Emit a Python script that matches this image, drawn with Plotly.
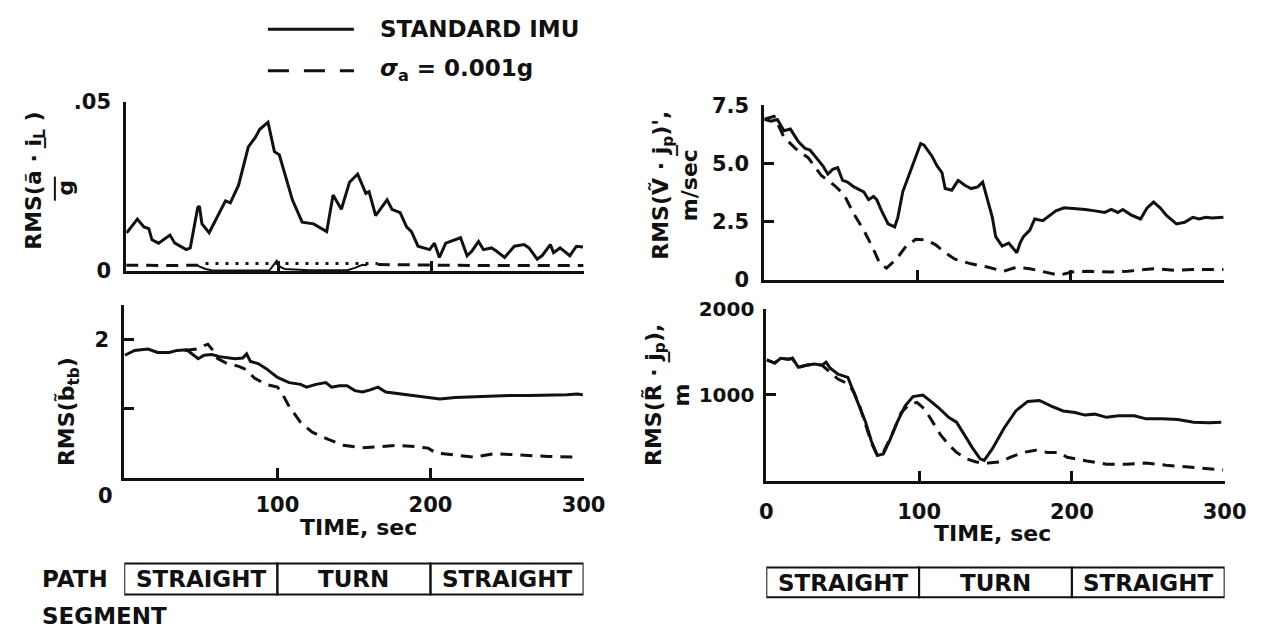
import plotly.graph_objects as go

W, H = 1274, 643

# ---------------- data ----------------
# Top-left: RMS(a~ . i_L)/g
tl_t_std = [0, 0.9, 7.3, 11.6, 14.8, 16.9, 21.2, 28.7, 31.9, 39.4, 42.0, 46.9, 48.0, 49.7, 54.4, 65.1, 68.3,
            73.7, 80.1, 84.8, 87.6, 93.0, 97.2, 100.4, 109.0, 115.4, 122.9, 131.5, 135.7, 137.9, 141.1,
            146.5, 151.8, 157.2, 159.3, 163.6, 171.1, 174.3, 179.7, 183.9, 187.1, 191.4, 199.0, 202.2,
            205.4, 209.6, 216.0, 219.3, 223.6, 226.8, 231.1, 234.3, 239.6, 242.8, 248.2, 254.6, 261.0,
            264.2, 269.6, 272.8, 278.2, 280.3, 284.6, 291.0, 295.3, 299.6]
tl_v_std = [0.0113, 0.0116, 0.0153, 0.0130, 0.0125, 0.0092, 0.0082, 0.0106, 0.0082, 0.0063, 0.0068, 0.0187,
            0.0191, 0.0139, 0.0113, 0.0207, 0.0201, 0.0253, 0.0366, 0.0395, 0.0418, 0.0439, 0.0352, 0.0343,
            0.0210, 0.0144, 0.0139, 0.0116, 0.0224, 0.0205, 0.0182, 0.0262, 0.0286, 0.0229, 0.0234, 0.0163,
            0.0210, 0.0182, 0.0172, 0.0130, 0.0116, 0.0073, 0.0063, 0.0082, 0.0040, 0.0082, 0.0092, 0.0098,
            0.0045, 0.0059, 0.0087, 0.0063, 0.0068, 0.0059, 0.0040, 0.0073, 0.0078, 0.0068, 0.0035, 0.0045,
            0.0078, 0.0054, 0.0068, 0.0045, 0.0073, 0.0071]
tl_t_acc_a = [0, 10, 20, 30, 40, 50]
tl_v_acc_a = [0.0017, 0.0016, 0.0017, 0.0016, 0.0017, 0.0017]
tl_t_acc_b = [52, 80, 110, 140, 165]
tl_v_acc_b = [0.0022, 0.0022, 0.0022, 0.0022, 0.0022]
tl_t_acc_c = [165, 190, 200, 230, 260, 300]
tl_v_acc_c = [0.0019, 0.0018, 0.0016, 0.0016, 0.0016, 0.0016]
tl_t_low = [47, 52, 56, 70, 94, 98.7, 101, 104, 120, 145, 150, 155, 158]
tl_v_low = [0.0015, 0.0006, 0.0002, 0.0001, 0.0002, 0.0030, 0.0012, 0.0006, 0.0002, 0.0002, 0.0009, 0.0018, 0.0017]

# Top-right: RMS(V~ . j_p), m/sec
tr_t_std = [0, 4.3, 8.5, 12.8, 17.0, 22.3, 26.6, 29.8, 34.0, 38.3, 41.5, 44.7, 47.9, 51.1, 54.3, 58.5, 64.9,
            68.1, 71.3, 73.4, 76.6, 80.8, 85.1, 87.2, 90.4, 96.8, 102.1, 104.3, 109.6, 112.8, 116.0, 118.1,
            122.4, 126.6, 130.9, 135.1, 139.4, 142.6, 145.7, 148.9, 151.1, 155.3, 159.6, 164.9, 167.0, 169.2,
            173.4, 176.6, 181.9, 190.4, 195.8, 203.2, 209.6, 216.0, 222.3, 226.6, 230.9, 234.1, 239.4, 245.7,
            250.0, 254.2, 258.5, 262.8, 269.2, 274.5, 279.8, 284.0, 288.3, 292.5, 300.0]
tr_v_std = [6.90, 6.82, 6.89, 6.41, 6.48, 5.93, 5.65, 5.58, 5.24, 4.89, 4.54, 4.75, 4.82, 4.27, 4.20, 3.99,
            3.78, 3.44, 3.58, 3.44, 2.96, 2.40, 2.27, 2.68, 3.78, 4.96, 5.86, 5.79, 5.30, 4.89, 4.61, 3.92,
            3.85, 4.27, 4.06, 3.92, 3.99, 4.20, 3.44, 2.68, 1.85, 1.44, 1.57, 1.16, 1.57, 1.85, 2.13, 2.61,
            2.54, 2.96, 3.09, 3.06, 3.02, 2.96, 2.89, 3.02, 2.89, 3.02, 2.79, 2.61, 3.09, 3.34, 3.09, 2.75,
            2.40, 2.47, 2.68, 2.61, 2.68, 2.65, 2.68]
tr_t_acc = [0, 6.4, 12.8, 20.2, 28.7, 37.2, 45.7, 52.1, 58.5, 64.9, 71.3, 75.5, 79.8, 86.2, 92.6, 98.9,
            105.3, 111.7, 118.1, 124.5, 135.1, 145.7, 156.4, 164.9, 173.4, 184.0, 192.6, 201.0, 211.7,
            226.6, 237.3, 254.2, 269.2, 279.8, 300.0]
tr_v_acc = [6.90, 7.03, 6.13, 5.65, 5.24, 4.48, 4.06, 3.65, 2.82, 2.13, 1.30, 0.68, 0.50, 0.88, 1.44, 1.74,
            1.71, 1.51, 1.16, 0.88, 0.68, 0.54, 0.36, 0.54, 0.47, 0.33, 0.19, 0.33, 0.36, 0.33, 0.36, 0.47,
            0.40, 0.44, 0.44]

# Bottom-left: RMS(b~_tb)
bl_t_std = [0.4, 6.7, 15.5, 21.8, 29.4, 34.5, 40.8, 44.6, 48.3, 52.1, 57.2, 62.2, 67.3, 72.3, 77.4, 79.9,
            82.4, 87.4, 92.5, 100.1, 107.7, 115.2, 119.0, 125.3, 131.6, 135.4, 140.5, 145.5, 150.6, 155.6,
            160.7, 165.7, 170.8, 180.8, 190.9, 198.5, 206.1, 216.2, 226.3, 238.9, 251.5, 264.1, 276.8,
            289.4, 295.7, 299.5]
bl_v_std = [1.77, 1.84, 1.86, 1.81, 1.81, 1.84, 1.85, 1.79, 1.72, 1.77, 1.78, 1.75, 1.73, 1.72, 1.73, 1.79,
            1.68, 1.65, 1.58, 1.45, 1.375, 1.35, 1.31, 1.35, 1.375, 1.31, 1.33, 1.33, 1.26, 1.24, 1.27, 1.31,
            1.24, 1.21, 1.19, 1.16, 1.14, 1.16, 1.17, 1.18, 1.19, 1.19, 1.19, 1.20, 1.21, 1.20]
bl_t_acc = [39.5, 47.1, 52.1, 54.6, 57.2, 61.0, 67.3, 74.8, 79.9, 85.0, 92.5, 100.1, 102.6, 107.7, 115.2,
            122.8, 132.9, 143.0, 155.6, 168.2, 178.3, 190.9, 198.5, 203.6, 216.2, 228.8, 241.4, 256.6,
            276.8, 297.0]
bl_v_acc = [1.84, 1.86, 1.91, 1.93, 1.86, 1.72, 1.65, 1.61, 1.56, 1.44, 1.35, 1.31, 1.24, 1.03, 0.80, 0.66,
            0.56, 0.47, 0.435, 0.45, 0.47, 0.45, 0.43, 0.36, 0.33, 0.30, 0.35, 0.33, 0.31, 0.30]

# Bottom-right: RMS(R~ . j_p), m
br_t_std = [0.3, 5.5, 9.4, 14.5, 17.1, 21.0, 26.2, 31.4, 36.5, 39.1, 41.7, 46.9, 53.4, 55.9, 59.8, 65.0,
            68.8, 72.7, 76.6, 80.5, 85.7, 90.8, 96.0, 102.5, 107.7, 112.8, 119.3, 124.5, 129.7, 134.8, 140.0,
            142.6, 147.8, 155.5, 163.3, 171.1, 178.8, 186.5, 194.3, 202.1, 208.5, 215.0, 222.7, 230.5,
            240.9, 248.6, 259.0, 269.3, 279.7, 290.0, 297.8]
br_v_std = [1403, 1367, 1422, 1411, 1422, 1318, 1341, 1356, 1341, 1378, 1311, 1237, 1200, 1089, 922, 681,
            459, 293, 311, 459, 681, 867, 978, 996, 922, 848, 737, 681, 533, 385, 256, 237, 367, 607, 811,
            922, 933, 867, 811, 792, 763, 774, 737, 756, 756, 719, 719, 711, 681, 674, 681]
br_t_acc = [0.3, 5.5, 9.4, 14.5, 17.1, 21.0, 26.2, 31.4, 36.5, 41.7, 46.9, 53.4, 57.2, 61.1, 65.0, 68.8,
            72.7, 76.6, 83.1, 88.3, 93.4, 98.6, 103.8, 108.9, 114.1, 119.3, 124.5, 130.9, 137.4, 145.2,
            152.9, 160.7, 168.4, 176.2, 184.0, 191.7, 196.9, 209.8, 222.7, 235.7, 248.6, 261.6, 274.5,
            287.4, 299.0]
br_v_acc = [1403, 1367, 1422, 1411, 1422, 1318, 1341, 1356, 1341, 1256, 1181, 1126, 1033, 867, 659, 441,
            293, 330, 570, 792, 885, 911, 830, 681, 533, 422, 330, 256, 219, 207, 219, 281, 330, 356, 330,
            330, 274, 230, 193, 193, 207, 181, 163, 144, 126]

path_segments = ["STRAIGHT", "TURN", "STRAIGHT"]
segment_bounds = [0, 100, 200, 300]
legend_names = ["STANDARD IMU", "<i>σ</i><sub>a</sub> = 0.001g"]

# ---------------- figure ----------------
FONT = "DejaVu Sans"
BLACK = "#111111"
DASH = "12px,8px"
LW = 3

fig = go.Figure()

def add(x, y, ax, dash="solid", width=LW):
    fig.add_trace(go.Scatter(x=x, y=y, mode="lines", xaxis="x" + ax, yaxis="y" + ax,
                             line=dict(color=BLACK, width=width, dash=dash),
                             showlegend=False, hoverinfo="skip"))

add(tl_t_std, tl_v_std, "")
add(tl_t_acc_a, tl_v_acc_a, "", dash=DASH)
add(tl_t_acc_b, tl_v_acc_b, "", dash="3px,7px")
add(tl_t_acc_c, tl_v_acc_c, "", dash=DASH)
add(tl_t_low, tl_v_low, "", width=2)
add(tr_t_std, tr_v_std, "2")
add(tr_t_acc, tr_v_acc, "2", dash=DASH)
add(bl_t_std, bl_v_std, "3")
add(bl_t_acc, bl_v_acc, "3", dash=DASH)
add(br_t_std, br_v_std, "4")
add(br_t_acc, br_v_acc, "4", dash=DASH)

def px(p):
    return p / W

def py(p):
    return 1 - p / H

tickfont = dict(family=FONT, size=21, color=BLACK, weight="bold")
common_x = dict(range=[0, 300], showline=True, linewidth=LW, linecolor=BLACK, ticks="inside",
                ticklen=10, tickwidth=LW, tickcolor=BLACK, showgrid=False, zeroline=False,
                fixedrange=True, tickfont=tickfont)
common_y = dict(showline=True, linewidth=LW, linecolor=BLACK, ticks="inside", ticklen=10,
                tickwidth=LW, tickcolor=BLACK, showgrid=False, zeroline=False, fixedrange=True,
                tickfont=tickfont, ticklabelstandoff=8)

fig.update_layout(
    width=W, height=H, margin=dict(l=0, r=0, t=0, b=0),
    paper_bgcolor="white", plot_bgcolor="white", showlegend=False,
    xaxis=dict(common_x, domain=[px(122), px(590)], anchor="y", tickvals=[100, 200, 300], showticklabels=False),
    yaxis=dict(common_y, domain=[py(269), py(93)], anchor="x", range=[0, 0.05], tickvals=[0, 0.05],
               ticktext=["0", ".05"]),
    xaxis2=dict(common_x, domain=[px(775), px(1245)], anchor="y2", tickvals=[100, 200, 300], showticklabels=False),
    yaxis2=dict(common_y, domain=[py(278), py(97)], anchor="x2", range=[0, 7.5], tickvals=[0, 2.5, 5, 7.5],
                ticktext=["0", "2.5", "5.0", "7.5"]),
    xaxis3=dict(common_x, domain=[px(120), px(590)], anchor="y3", tickvals=[100, 200, 300],
                ticktext=["100", "200", "300"], ticklabelstandoff=6),
    yaxis3=dict(common_y, domain=[py(484), py(304)], anchor="x3", range=[0, 2.5], tickvals=[1, 2],
                ticktext=["", "2"]),
    xaxis4=dict(common_x, domain=[px(777), px(1246)], anchor="y4", tickvals=[0, 100, 200, 300],
                ticktext=["0", "100", "200", "300"], ticklabelstandoff=10),
    yaxis4=dict(common_y, domain=[py(487), py(308)], anchor="x4", range=[0, 2000], tickvals=[1000, 2000],
                ticktext=["1000", "2000"], ticklabelstandoff=5, tickfont=dict(tickfont, size=20)),
)

ann = []
def text(x, y, s, size=21, angle=0, xanchor="center", xref="paper", yref="paper"):
    ann.append(dict(x=x, y=y, xref=xref, yref=yref, text=s, showarrow=False, textangle=angle,
                    xanchor=xanchor, yanchor="middle",
                    font=dict(family=FONT, size=size, color=BLACK, weight="bold")))

# legend
text(px(380), py(18), legend_names[0], size=23, xanchor="left")
text(px(380), py(60), legend_names[1], size=23, xanchor="left")

# axis titles
text(px(29), py(175), "RMS(ã · i̲<sub>L</sub> )", size=22, angle=-90)
text(px(60), py(183), "g", size=22, angle=-90)
text(px(684), py(180), "RMS(Ṽ · j̲<sub>p</sub>)',<br>m/sec", size=22, angle=-90)
text(px(63), py(415), "RMS(b̃<sub>tb</sub>)", size=22, angle=-90)
text(px(664), py(398), "RMS(R̃ · j̲<sub>p</sub>),", size=22, angle=-90)
text(px(690), py(398), "m", size=22, angle=-90)

# x labels
text(px(101), py(503), "0", size=21)
text(px(360), py(535), "TIME, sec", size=22)
text(px(1008), py(542), "TIME, sec", size=22)

# path segment labels
for i, seg in enumerate(path_segments):
    mid = (segment_bounds[i] + segment_bounds[i + 1]) / 2
    text(mid, py(589), seg, size=23, xref="x3")
    text(mid, py(593), seg, size=23, xref="x4")
text(px(34), py(589), "PATH", size=23, xanchor="left")
text(px(34), py(627), "SEGMENT", size=23, xanchor="left")

shapes = []
# bar of g/fraction
shapes.append(dict(type="line", xref="paper", yref="paper", x0=px(49), x1=px(49), y0=py(171), y1=py(196),
                   line=dict(color=BLACK, width=2)))
# legend lines
shapes.append(dict(type="line", xref="paper", yref="paper", x0=px(267), x1=px(355), y0=py(18), y1=py(18),
                   line=dict(color=BLACK, width=LW)))
shapes.append(dict(type="line", xref="paper", yref="paper", x0=px(267), x1=px(355), y0=py(61), y1=py(61),
                   line=dict(color=BLACK, width=LW, dash="21px,15px")))
# segment boxes
for i in range(len(path_segments)):
    shapes.append(dict(type="rect", xref="x3", yref="paper", x0=segment_bounds[i], x1=segment_bounds[i + 1],
                       y0=py(605), y1=py(573), line=dict(color=BLACK, width=2)))
    shapes.append(dict(type="rect", xref="x4", yref="paper", x0=segment_bounds[i], x1=segment_bounds[i + 1],
                       y0=py(608), y1=py(577), line=dict(color=BLACK, width=2)))

fig.update_layout(annotations=ann, shapes=shapes)
fig.write_html("out.html")
